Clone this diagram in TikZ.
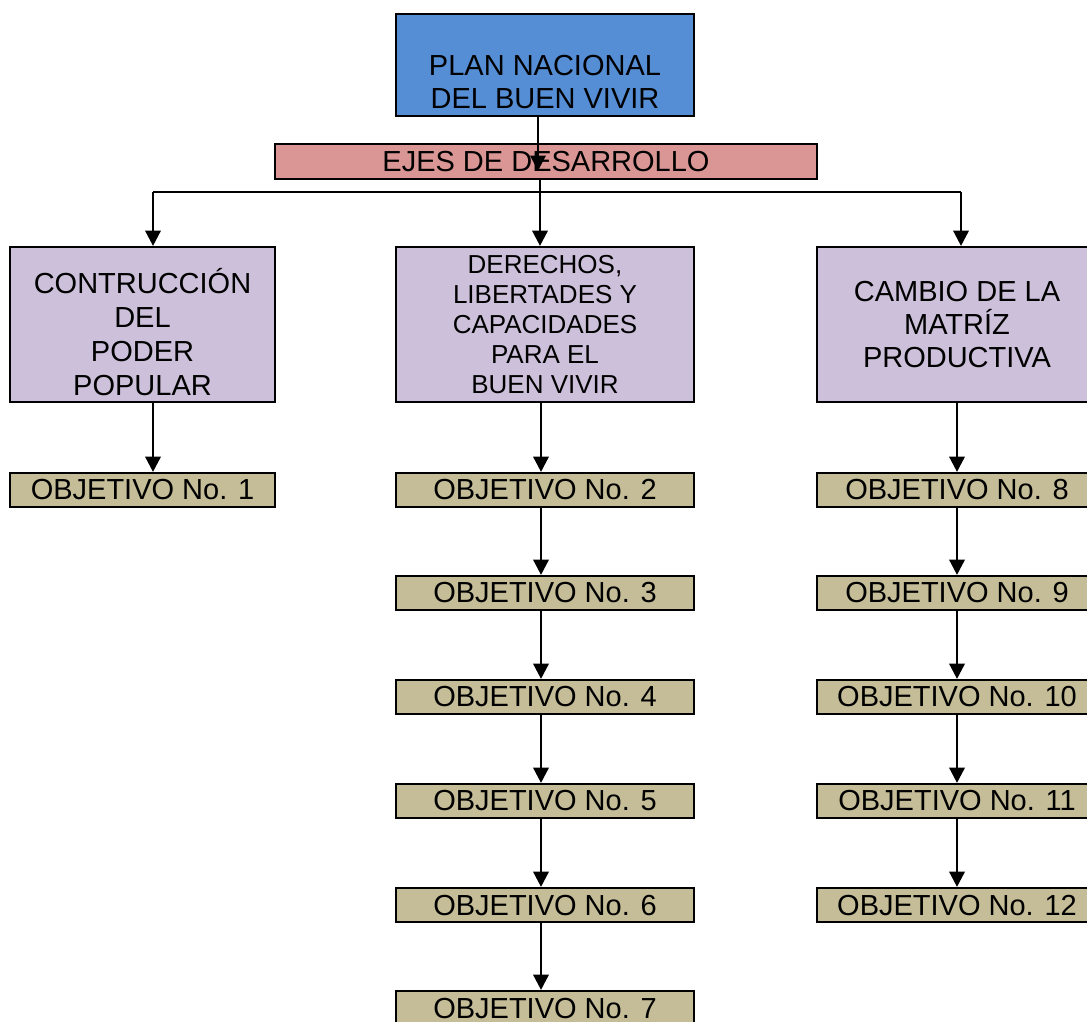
\documentclass[tikz,border=0pt]{standalone}
\usepackage{fontspec}
\setmainfont{Liberation Sans}
\usetikzlibrary{arrows.meta, positioning}

\definecolor{planblue}{HTML}{558ED5}
\definecolor{ejespink}{HTML}{D99694}
\definecolor{ejelila}{HTML}{CCC0DA}
\definecolor{objtan}{HTML}{C4BD97}

\begin{document}
\begin{tikzpicture}[> = {Triangle[length = 11.5pt, width = 11.5pt]}, % arrow head style
                x = 0.75pt, y = -0.75pt, % one unit = one pixel
                line width = 1.9pt % line style
            ]

            \tikzstyle{every node}=[draw = black, line width = 1.6pt,
            inner sep = 0pt, align = center, font = \fontsize{21.75}{24.75}\selectfont]
            \tikzstyle{eje}=[fill = ejelila, minimum height = 116.25pt]
            \tikzstyle{obj}=[fill = objtan, minimum height = 25.5pt]

            \useasboundingbox (0,0) rectangle (1087,1021);
            \clip (0,0) rectangle (1087,1021);

            % top
            \node (plan) [fill = planblue, minimum width = 223.5pt,
                minimum height = 76.5pt] at (545,65)
                {\rule{0pt}{40pt}PLAN NACIONAL\\DEL BUEN VIVIR};
            \node (ejes) [fill = ejespink, minimum width = 406.5pt,
                minimum height = 26.25pt] at (546,161.5) {EJES DE DESARROLLO};

            % ejes
            \node (c1) [eje, minimum width = 198.75pt] at (142.5,324.5)
                {\rule{0pt}{30pt}CONTRUCCIÓN\\[0.75pt]DEL\\[0.75pt]PODER\\[0.75pt]POPULAR};
            \node (c2) [eje, minimum width = 223.5pt,
                font = \fontsize{19.5}{22.5}\selectfont] at (545,324.5)
                {DERECHOS,\\LIBERTADES Y\\CAPACIDADES\\PARA EL\\BUEN VIVIR};
            \node (c3) [eje, minimum width = 210pt] at (957,324.5)
                {CAMBIO DE LA\\MATRÍZ\\PRODUCTIVA};

            % objetivos
            \node (o1) [obj, minimum width = 198.75pt] at (142.5,490) {OBJETIVO No. 1};

            \node (o2) [obj, minimum width = 223.5pt] at (545,490) {OBJETIVO No. 2};
            \node (o3) [obj, minimum width = 223.5pt] at (545,593) {OBJETIVO No. 3};
            \node (o4) [obj, minimum width = 223.5pt] at (545,697) {OBJETIVO No. 4};
            \node (o5) [obj, minimum width = 223.5pt] at (545,801) {OBJETIVO No. 5};
            \node (o6) [obj, minimum width = 223.5pt] at (545,905) {OBJETIVO No. 6};
            \node (o7) [obj, minimum width = 223.5pt] at (545,1008) {OBJETIVO No. 7};

            \node (o8) [obj, minimum width = 210pt] at (957,490) {OBJETIVO No. 8};
            \node (o9) [obj, minimum width = 210pt] at (957,593) {OBJETIVO No. 9};
            \node (o10) [obj, minimum width = 210pt] at (957,697) {OBJETIVO No. 10};
            \node (o11) [obj, minimum width = 210pt] at (957,801) {OBJETIVO No. 11};
            \node (o12) [obj, minimum width = 210pt] at (957,905) {OBJETIVO No. 12};

            % connectors
            \coordinate (bl) at (153,192); \coordinate (bm) at (540,192);
            \coordinate (br) at (961,192);

            \path[->] ([xshift=-5.25pt]plan.south) edge
                ([xshift=-6pt, yshift=-7pt]ejes.center);
            \draw[line width = 1pt] (bl) -- (br);
            \path[->] (bm |- ejes.south) edge (bm |- c2.north);
            \path[->] (bl) edge (bl |- c1.north);
            \path[->] (br) edge (br |- c3.north);

            \path[->] (bl |- c1.south) edge (bl |- o1.north);
            \path[->] ([xshift=-3pt]c2.south) edge ([xshift=-3pt]o2.north);
            \path[->] ([xshift=-3pt]o2.south) edge ([xshift=-3pt]o3.north);
            \path[->] ([xshift=-3pt]o3.south) edge ([xshift=-3pt]o4.north);
            \path[->] ([xshift=-3pt]o4.south) edge ([xshift=-3pt]o5.north);
            \path[->] ([xshift=-3pt]o5.south) edge ([xshift=-3pt]o6.north);
            \path[->] ([xshift=-3pt]o6.south) edge ([xshift=-3pt]o7.north);
            \path[->] (c3) edge (o8); \path[->] (o8) edge (o9);
            \path[->] (o9) edge (o10); \path[->] (o10) edge (o11);
            \path[->] (o11) edge (o12);
\end{tikzpicture}
\end{document}
